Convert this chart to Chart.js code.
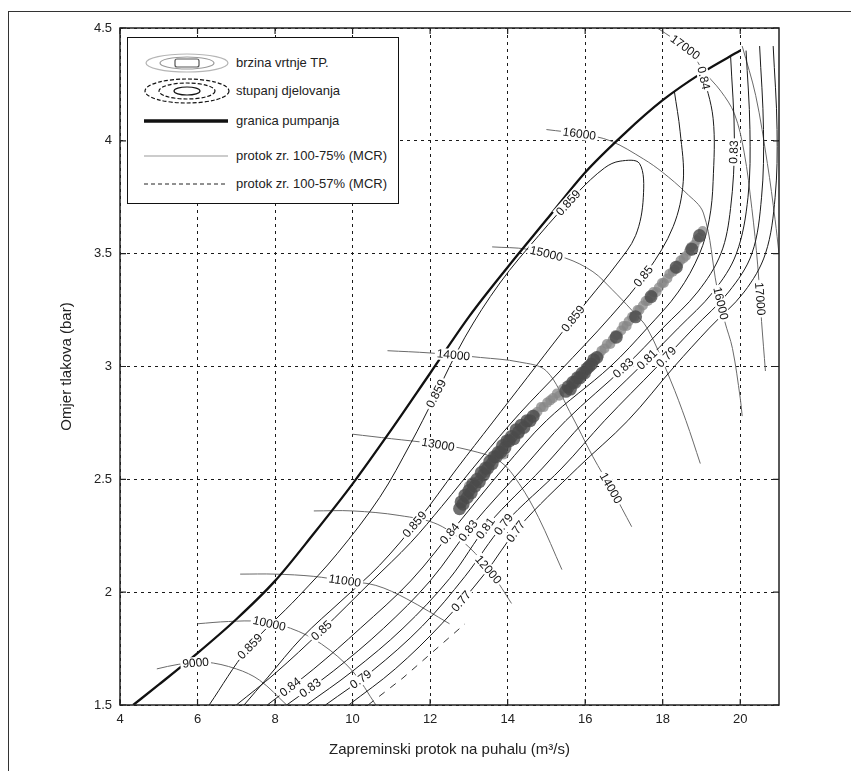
<!DOCTYPE html>
<html><head><meta charset="utf-8">
<script src="https://cdn.jsdelivr.net/npm/chart.js@4.4.0/dist/chart.umd.min.js"></script>
<style>
html,body{margin:0;padding:0;background:#fff;}
#wrap{position:relative;width:851px;height:771px;overflow:hidden;}
#frame{position:absolute;left:8px;top:11px;width:900px;height:800px;border-left:1.5px solid #333;border-top:1.5px solid #333;pointer-events:none}
#c{position:absolute;left:0;top:0}
#legend{position:absolute;left:127px;top:37px;width:270px;height:165px;border:1px solid #111;background:#fff;font-family:"Liberation Sans",Arial,sans-serif;font-size:13px;color:#222}
#legend svg{position:absolute;left:0;top:0}
#legend span{position:absolute;left:108px;white-space:nowrap;line-height:14px}
</style></head>
<body>
<div id="wrap">
<canvas id="c" width="851" height="771"></canvas>
<div id="frame"></div>
<div id="legend">
<svg width="110" height="165" viewBox="0 0 110 165">
  <ellipse cx="59" cy="25" rx="41" ry="9" fill="none" stroke="#b5b5b5" stroke-width="1.2"/>
  <ellipse cx="59" cy="25" rx="27" ry="6" fill="none" stroke="#9a9a9a" stroke-width="1.2"/>
  <rect x="47" y="21" width="24" height="8" rx="2" fill="none" stroke="#555" stroke-width="1.2"/>
  <ellipse cx="59" cy="53" rx="42" ry="12" fill="none" stroke="#111" stroke-width="1.2" stroke-dasharray="4 2"/>
  <ellipse cx="59" cy="53" rx="28" ry="8" fill="none" stroke="#111" stroke-width="1.2" stroke-dasharray="4 2"/>
  <ellipse cx="59" cy="53" rx="13" ry="4" fill="none" stroke="#111" stroke-width="1.2"/>
  <line x1="16" y1="83" x2="100" y2="83" stroke="#111" stroke-width="3.5"/>
  <line x1="16" y1="118" x2="100" y2="118" stroke="#999" stroke-width="1.2"/>
  <line x1="16" y1="146" x2="100" y2="146" stroke="#222" stroke-width="1" stroke-dasharray="4 3"/>
</svg>
<span style="top:18px">brzina vrtnje TP.</span>
<span style="top:46px">stupanj djelovanja</span>
<span style="top:76px">granica pumpanja</span>
<span style="top:111px">protok zr. 100-75% (MCR)</span>
<span style="top:139px">protok zr. 100-57% (MCR)</span>
</div>
</div>
<script>
// ---------------- data ----------------
const xTickVals = [4, 6, 8, 10, 12, 14, 16, 18, 20];
const yTickVals = [1.5, 2, 2.5, 3, 3.5, 4, 4.5];

// surge line (granica pumpanja)
const surgeLine = [[4.34,1.5],[5,1.59],[6,1.73],[7,1.88],[8,2.05],[9,2.26],[10,2.48],[11,2.72],[12,2.97],[13,3.22],[14,3.44],[15,3.65],[16,3.86],[17,4.03],[18,4.18],[19,4.3],[20,4.4]];

// speed lines (brzina vrtnje TP.)
const n9000  = [[4.95,1.66],[5.5,1.68],[6.2,1.69],[7.0,1.66],[7.6,1.61],[8.3,1.5]];
const n10000 = [[6.0,1.86],[6.8,1.87],[7.6,1.87],[8.4,1.84],[9.2,1.77],[10.0,1.65],[10.6,1.5]];
const n11000 = [[7.1,2.08],[8.0,2.08],[9.0,2.07],[9.8,2.05],[10.6,2.03],[11.4,1.97],[12.5,1.86]];
const n12000 = [[9.0,2.36],[10.0,2.36],[11.2,2.34],[12.2,2.3],[13.0,2.2],[13.6,2.08],[14.1,1.95]];
const n13000 = [[10.0,2.70],[11.0,2.68],[12.0,2.66],[13.0,2.63],[13.8,2.58],[14.3,2.48],[14.8,2.33],[15.4,2.1]];
const n14000 = [[10.9,3.07],[12.0,3.06],[13.3,3.04],[14.3,3.02],[15.0,2.98],[15.6,2.8],[16.2,2.6],[16.7,2.45],[17.2,2.29]];
const n15000 = [[13.6,3.53],[14.5,3.52],[15.5,3.48],[16.2,3.42],[16.7,3.34],[17.2,3.25],[17.6,3.17],[18.2,2.94],[18.6,2.76],[18.97,2.57]];
const n16000 = [[15.0,4.05],[15.9,4.03],[16.65,4.0],[17.5,3.92],[18.0,3.86],[18.6,3.77],[19.05,3.68],[19.4,3.35],[19.6,3.2],[19.8,3.08],[20.0,2.86],[20.05,2.78]];
const n17000 = [[17.86,4.5],[18.3,4.45],[18.7,4.4],[19.05,4.31],[19.5,4.22],[19.85,4.12],[20.1,3.95],[20.3,3.7],[20.45,3.45],[20.55,3.2],[20.65,2.98]];
const nEdge  = [[20.05,4.42],[20.4,4.2],[20.7,3.9],[20.9,3.65],[21.0,3.5]];

// efficiency contours (stupanj djelovanja)
const eta859 = [[6.3,1.5],[7.3,1.75],[8.6,1.98],[9.6,2.17],[10.7,2.42],[11.5,2.66],[12.1,2.86],[12.9,3.13],[13.8,3.37],[14.8,3.58],[15.8,3.77],[16.5,3.88],[16.9,3.91],[17.4,3.9],[17.5,3.75],[17.3,3.58],[16.8,3.45],[16.1,3.3],[15.4,3.15],[14.5,2.95],[13.6,2.75],[12.7,2.55],[11.7,2.32],[10.7,2.12],[9.7,1.96],[8.7,1.8],[7.8,1.62],[7.2,1.5]];
const eta85  = [[7.0,1.5],[8.0,1.64],[9.2,1.83],[10.5,2.05],[11.5,2.22],[12.3,2.38],[13.3,2.59],[14.3,2.79],[15.35,2.98],[16.65,3.22],[17.6,3.42],[18.27,3.62],[18.53,3.82],[18.45,4.04],[18.3,4.22]];
const eta84  = [[7.8,1.5],[9.0,1.66],[10.2,1.84],[11.5,2.05],[12.7,2.3],[13.9,2.55],[15.0,2.76],[16.65,3.0],[17.6,3.17],[18.4,3.33],[18.95,3.5],[19.2,3.65],[19.3,3.82],[19.3,4.1],[19.0,4.32]];
const eta83  = [[8.3,1.5],[9.5,1.65],[10.8,1.84],[12.0,2.05],[13.1,2.3],[14.4,2.55],[15.5,2.76],[17.03,3.0],[18.0,3.17],[18.9,3.33],[19.5,3.5],[19.75,3.7],[19.85,4.0],[19.75,4.38]];
const eta81  = [[8.8,1.5],[10.0,1.65],[11.3,1.84],[12.5,2.06],[13.5,2.3],[14.9,2.55],[16.0,2.76],[17.42,3.0],[18.4,3.17],[19.3,3.33],[19.9,3.5],[20.2,3.75],[20.25,4.05],[20.15,4.4]];
const eta79  = [[9.3,1.5],[10.5,1.65],[11.8,1.85],[12.9,2.07],[13.9,2.3],[15.4,2.55],[16.5,2.76],[17.86,3.0],[18.8,3.17],[19.7,3.33],[20.3,3.5],[20.55,3.75],[20.6,4.05],[20.5,4.42]];
const eta77  = [[9.9,1.5],[11.1,1.66],[12.3,1.86],[13.4,2.08],[14.3,2.29],[15.8,2.55],[17.1,2.76],[18.3,3.0],[19.2,3.17],[20.1,3.33],[20.65,3.5],[20.9,3.75],[20.95,4.05],[20.85,4.42]];
const eta75  = [[10.4,1.5],[11.3,1.62],[12.1,1.74],[12.9,1.86]];

// measured operating points
const flow100to75 = [[13.0,2.47],[13.45,2.53],[13.9,2.61],[14.3,2.7],[14.7,2.79],[14.77,2.8],[14.86,2.82],[14.93,2.82],[15.02,2.84],[15.1,2.85],[15.17,2.86],[15.27,2.88],[15.33,2.87],[15.42,2.9],
  [16.36,3.05],[16.42,3.07],[16.5,3.08],[16.56,3.1],[16.65,3.1],[16.71,3.12],[16.79,3.14],[16.84,3.14],[16.93,3.16],[16.99,3.18],[17.07,3.18],[17.12,3.2],[17.21,3.22],[17.27,3.22],[17.35,3.25],[17.4,3.25],[17.49,3.27],[17.56,3.29],[17.62,3.29],[17.7,3.31],[17.76,3.33],[17.84,3.33],[17.9,3.35],[17.98,3.37],[18.03,3.37],[18.12,3.39],[18.17,3.41],[18.26,3.42],[18.31,3.43],[18.4,3.45],[18.46,3.47],[18.54,3.48],[18.6,3.49],[18.68,3.51],[18.74,3.53],[18.82,3.54],[18.88,3.56],[18.95,3.57],[19.03,3.6]];
const flow100to57 = [[12.76,2.37],[12.8,2.40],[12.85,2.39],[12.9,2.43],[12.96,2.42],[13.0,2.45],[13.06,2.44],[13.1,2.48],[13.16,2.47],[13.21,2.5],[13.27,2.49],[13.32,2.53],[13.38,2.52],[13.43,2.55],[13.49,2.55],[13.54,2.58],[13.6,2.57],[13.65,2.6],[13.71,2.6],[13.76,2.62],[13.82,2.62],[13.87,2.65],[13.93,2.64],[13.98,2.67],[14.04,2.67],[14.1,2.69],[14.16,2.68],[14.22,2.72],[14.28,2.71],[14.35,2.74],[14.42,2.73],[14.5,2.76],[14.58,2.76],[14.66,2.78],
  [15.5,2.89],[15.56,2.91],[15.62,2.9],[15.68,2.93],[15.74,2.93],[15.8,2.95],[15.86,2.95],[15.92,2.97],[15.98,2.97],[16.04,2.99],[16.1,3.0],[16.16,3.01],[16.22,3.03],[16.3,3.04],
  [16.8,3.13],[17.3,3.22],[17.7,3.31],[18.35,3.44],[18.75,3.52],[18.95,3.58]];

// contour labels
const contourLabels = [
  {t:'9000', x:5.95, y:1.69, line:'n9000'},
  {t:'10000', x:7.85, y:1.86, line:'n10000'},
  {t:'11000', x:9.8, y:2.05, line:'n11000'},
  {t:'12000', x:13.5, y:2.1, line:'n12000'},
  {t:'13000', x:12.2, y:2.65, line:'n13000'},
  {t:'14000', x:12.6, y:3.05, line:'n14000'},
  {t:'14000', x:16.65, y:2.46, line:'n14000'},
  {t:'15000', x:15.0, y:3.5, line:'n15000'},
  {t:'16000', x:15.85, y:4.03, line:'n16000'},
  {t:'16000', x:19.5, y:3.28, line:'n16000'},
  {t:'17000', x:18.6, y:4.42, line:'n17000'},
  {t:'17000', x:20.5, y:3.3, line:'n17000'},
  {t:'0.859', x:7.35, y:1.76, line:'eta859'},
  {t:'0.859', x:12.15, y:2.88, line:'eta859'},
  {t:'0.859', x:15.6, y:3.72, line:'eta859'},
  {t:'0.859', x:15.7, y:3.21, line:'eta859'},
  {t:'0.859', x:11.6, y:2.3, line:'eta859'},
  {t:'0.85', x:9.2, y:1.83, line:'eta85'},
  {t:'0.85', x:17.5, y:3.4, line:'eta85'},
  {t:'0.84', x:8.3, y:1.6, line:'eta84'},
  {t:'0.84', x:12.5, y:2.26, line:'eta84'},
  {t:'0.84', x:19.1, y:4.28, line:'eta84'},
  {t:'0.83', x:8.8, y:1.6, line:'eta83'},
  {t:'0.83', x:13.0, y:2.27, line:'eta83'},
  {t:'0.83', x:17.0, y:2.99, line:'eta83'},
  {t:'0.83', x:19.85, y:3.95, line:'eta83'},
  {t:'0.81', x:13.45, y:2.28, line:'eta81'},
  {t:'0.81', x:17.6, y:3.03, line:'eta81'},
  {t:'0.79', x:10.1, y:1.64, line:'eta79'},
  {t:'0.79', x:13.9, y:2.3, line:'eta79'},
  {t:'0.79', x:18.1, y:3.04, line:'eta79'},
  {t:'0.77', x:12.8, y:1.96, line:'eta77'},
  {t:'0.77', x:14.2, y:2.27, line:'eta77'}
];

// ---------------- chart ----------------
const lineMap = {surgeLine,n9000,n10000,n11000,n12000,n13000,n14000,n15000,n16000,n17000,nEdge,eta859,eta85,eta84,eta83,eta81,eta79,eta77,eta75};
const toXY = a => a.map(p => ({x:p[0], y:p[1]}));
const FONT = '"Liberation Sans", Arial, Helvetica, sans-serif';

const datasets = [];
datasets.push({label:'protok zr. 100-57% (MCR)', data:toXY(flow100to57), showLine:false, pointRadius:6.5, pointBorderWidth:0, pointBackgroundColor:'rgba(75,75,75,0.8)', order:0});
datasets.push({label:'protok zr. 100-75% (MCR)', data:toXY(flow100to75), showLine:false, pointRadius:5, pointBorderWidth:0, pointBackgroundColor:'rgba(135,135,135,0.75)', order:1});
datasets.push({label:'granica pumpanja', data:toXY(surgeLine), showLine:true, borderColor:'#111', borderWidth:2.3, pointRadius:0, fill:false, cubicInterpolationMode:'monotone', order:2});
['eta859','eta85','eta84','eta83','eta81','eta79','eta77'].forEach(k=>{
  datasets.push({label:k, data:toXY(lineMap[k]), showLine:true, borderColor:'#1a1a1a', borderWidth:1, pointRadius:0, fill:false, tension:0.35, order:4});
});
datasets.push({label:'eta75', data:toXY(eta75), showLine:true, borderColor:'#333', borderWidth:1, borderDash:[7,7], pointRadius:0, fill:false, order:4});
['n9000','n10000','n11000','n12000','n13000','n14000','n15000','n16000','n17000','nEdge'].forEach(k=>{
  datasets.push({label:k, data:toXY(lineMap[k]), showLine:true, borderColor:'#6a6a6a', borderWidth:1, pointRadius:0, fill:false, tension:0.35, order:5});
});

function projSeg(px,py,x1,y1,x2,y2){
  const dx=x2-x1, dy=y2-y1; const L=dx*dx+dy*dy;
  let t = L ? ((px-x1)*dx+(py-y1)*dy)/L : 0; t=Math.max(0,Math.min(1,t));
  const qx=x1+t*dx, qy=y1+t*dy;
  return {d:Math.hypot(px-qx,py-qy), qx, qy};
}

const overlay = {
  id:'overlay',
  afterDatasetsDraw(chart){
    const {ctx, scales:{x, y}} = chart;
    ctx.save();
    ctx.font = '12px ' + FONT;
    ctx.textAlign='center'; ctx.textBaseline='middle';
    for (const L of contourLabels){
      const pts = lineMap[L.line];
      const px = x.getPixelForValue(L.x), py = y.getPixelForValue(L.y);
      let best = {d:1e9}, ang = 0;
      for (let i=0;i<pts.length-1;i++){
        const x1=x.getPixelForValue(pts[i][0]), y1=y.getPixelForValue(pts[i][1]);
        const x2=x.getPixelForValue(pts[i+1][0]), y2=y.getPixelForValue(pts[i+1][1]);
        const r = projSeg(px,py,x1,y1,x2,y2);
        if (r.d < best.d){ best = r; ang = Math.atan2(y2-y1, x2-x1); }
      }
      if (ang > Math.PI/2) ang -= Math.PI;
      if (ang < -Math.PI/2) ang += Math.PI;
      ctx.save();
      ctx.translate(best.qx, best.qy); ctx.rotate(ang);
      const w = ctx.measureText(L.t).width;
      ctx.fillStyle='#fff'; ctx.fillRect(-w/2-2,-6,w+4,12);
      ctx.fillStyle='#111'; ctx.fillText(L.t,0,0.5);
      ctx.restore();
    }
    ctx.restore();
  },
  afterDraw(chart){
    const {ctx, chartArea:a, scales:{x, y}} = chart;
    ctx.save();
    ctx.strokeStyle='#222'; ctx.lineWidth=1.5;
    ctx.strokeRect(a.left, a.top, a.right-a.left, a.bottom-a.top);
    ctx.lineWidth=1.2;
    ctx.beginPath();
    xTickVals.forEach(v=>{ const p=x.getPixelForValue(v); ctx.moveTo(p,a.bottom); ctx.lineTo(p,a.bottom-6); ctx.moveTo(p,a.top); ctx.lineTo(p,a.top+6); });
    yTickVals.forEach(v=>{ const p=y.getPixelForValue(v); ctx.moveTo(a.left,p); ctx.lineTo(a.left+6,p); ctx.moveTo(a.right,p); ctx.lineTo(a.right-6,p); });
    ctx.stroke();
    ctx.restore();
  }
};

new Chart(document.getElementById('c'), {
  type:'scatter',
  data:{datasets},
  options:{
    responsive:false, animation:false, devicePixelRatio:1,
    layout:{padding:{left:0,right:72,top:28,bottom:0}},
    plugins:{legend:{display:false}, tooltip:{enabled:false}},
    scales:{
      x:{type:'linear', min:4, max:21,
        afterBuildTicks:s=>{ s.ticks = xTickVals.map(v=>({value:v})); },
        afterFit:s=>{ s.height = 66; },
        ticks:{padding:7, color:'#222', font:{size:13, family:FONT}, maxRotation:0, autoSkip:false, callback:v=>String(v)},
        grid:{color:'#1a1a1a', lineWidth:1, drawTicks:false},
        border:{display:false, dash:[3,4]},
        title:{display:true, text:'Zapreminski protok na puhalu (m³/s)', color:'#222', font:{size:15, family:FONT}, padding:{top:12,bottom:12}}
      },
      y:{type:'linear', min:1.5, max:4.5,
        afterBuildTicks:s=>{ s.ticks = yTickVals.map(v=>({value:v})); },
        afterFit:s=>{ s.width = 120; },
        ticks:{padding:8, color:'#222', font:{size:13, family:FONT}, autoSkip:false, callback:v=>String(v)},
        grid:{color:'#1a1a1a', lineWidth:1, drawTicks:false},
        border:{display:false, dash:[3,4]},
        title:{display:true, text:'Omjer tlakova (bar)', color:'#222', font:{size:15, family:FONT}, padding:{top:58,bottom:58}}
      }
    }
  },
  plugins:[overlay]
});
</script>
</body></html>
